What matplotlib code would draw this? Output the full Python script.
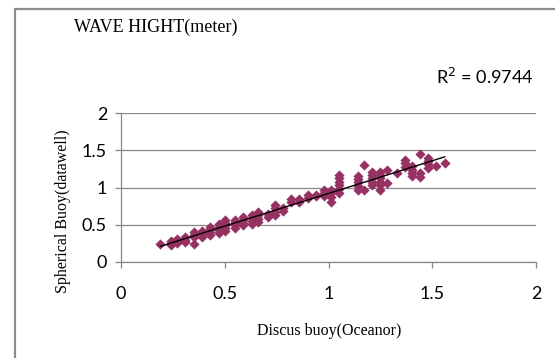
import numpy as np
import matplotlib.pyplot as plt
from matplotlib.patches import Rectangle

# measured columns of the scatter (x) and the y values stacked in each column
x_cols = [0.19, 0.24, 0.27, 0.31, 0.35, 0.39, 0.43, 0.47, 0.50, 0.55,
          0.59, 0.63, 0.66, 0.71, 0.74, 0.78, 0.82, 0.86, 0.90, 0.94,
          0.98, 1.01, 1.05, 1.14, 1.17, 1.21, 1.25, 1.28, 1.33, 1.37,
          1.40, 1.44, 1.48, 1.52, 1.56]
y_cols = [[0.24],
          [0.23, 0.26, 0.28],
          [0.25, 0.28, 0.31],
          [0.27, 0.30, 0.33],
          [0.24, 0.33, 0.36, 0.40],
          [0.33, 0.37, 0.41],
          [0.36, 0.40, 0.44, 0.47],
          [0.39, 0.43, 0.47, 0.51],
          [0.41, 0.45, 0.49, 0.53, 0.57],
          [0.46, 0.50, 0.54, 0.57],
          [0.49, 0.53, 0.57, 0.60],
          [0.51, 0.55, 0.59, 0.63],
          [0.54, 0.58, 0.63, 0.67],
          [0.60, 0.64],
          [0.63, 0.67, 0.72, 0.77],
          [0.68, 0.72],
          [0.80, 0.84],
          [0.81, 0.84],
          [0.86, 0.90],
          [0.88, 0.90],
          [0.89, 0.93, 0.97],
          [0.81, 0.87, 0.92, 0.96],
          [0.93, 0.98, 1.03, 1.08, 1.13, 1.17],
          [0.97, 1.02, 1.07, 1.12, 1.16],
          [0.97, 1.30],
          [1.03, 1.08, 1.13, 1.17, 1.21],
          [0.97, 1.03, 1.08, 1.13, 1.17, 1.21],
          [1.06, 1.23],
          [1.19],
          [1.28, 1.33, 1.37],
          [1.15, 1.19, 1.24, 1.29],
          [1.14, 1.19, 1.45],
          [1.26, 1.31, 1.36, 1.40],
          [1.29],
          [1.33]]
r2_text = 'R$^2$ = 0.9744'
ticks = [0, 0.5, 1, 1.5, 2]
tick_labels = ['0', '0.5', '1', '1.5', '2']

xs = []
ys = []
for xv, col in zip(x_cols, y_cols):
    for yv in col:
        xs.append(xv)
        ys.append(yv)
xs = np.array(xs)
ys = np.array(ys)

# linear trendline as excel does it
k, b = np.polyfit(xs, ys, 1)
tx = np.array([xs.min(), xs.max()])

W, H = 555, 358
fig = plt.figure(figsize=(W / 100, H / 100), dpi=100)
grey = '#878787'

# chart area border (only top and left show in the crop)
fig.add_artist(Rectangle((14.5 / W, -0.2), 1.5, 1.2 - 9 / H, transform=fig.transFigure,
                         fill=False, edgecolor='#8c8c8c', linewidth=1.6))

ax = fig.add_axes([121 / W, 1 - 262 / H, (536 - 121) / W, (262 - 113) / H])
ax.scatter(xs, ys, marker='D', s=27, color='#953163', linewidths=0, zorder=3)
ax.plot(tx, k * tx + b, color='black', linewidth=1.0, zorder=4)

ax.set_xlim(0, 2)
ax.set_ylim(0, 2)
ax.set_xticks(ticks)
ax.set_xticklabels(tick_labels)
ax.set_yticks(ticks)
ax.set_yticklabels(tick_labels)
ax.grid(axis='y', color=grey, linewidth=0.9)
ax.set_axisbelow(True)
for s in ['top', 'right']:
    ax.spines[s].set_visible(False)
for s in ['left', 'bottom']:
    ax.spines[s].set_color(grey)
    ax.spines[s].set_linewidth(0.9)
ax.tick_params(axis='both', direction='out', width=0.9, color=grey, labelsize=13)
ax.tick_params(axis='x', length=4.5, pad=13)
ax.tick_params(axis='y', length=4, pad=6)
for lab in ax.get_xticklabels() + ax.get_yticklabels():
    lab.set_family('Lato')

fig.text(74 / W, 1 - 27 / H, 'WAVE HIGHT(meter)', family='Liberation Serif',
         fontsize=13, ha='left', va='center')
fig.text(534 / W, 1 - 77 / H, r2_text, family='Lato', fontsize=13,
         ha='right', va='center')
fig.text(329 / W, 1 - 331 / H, 'Discus buoy(Oceanor)', family='Liberation Serif',
         fontsize=11.5, ha='center', va='center')
fig.text(63 / W, 1 - 211 / H, 'Spherical Buoy(datawell)', family='Liberation Serif',
         fontsize=11.5, ha='center', va='center', rotation=90)

plt.savefig('out.png', dpi=100)
